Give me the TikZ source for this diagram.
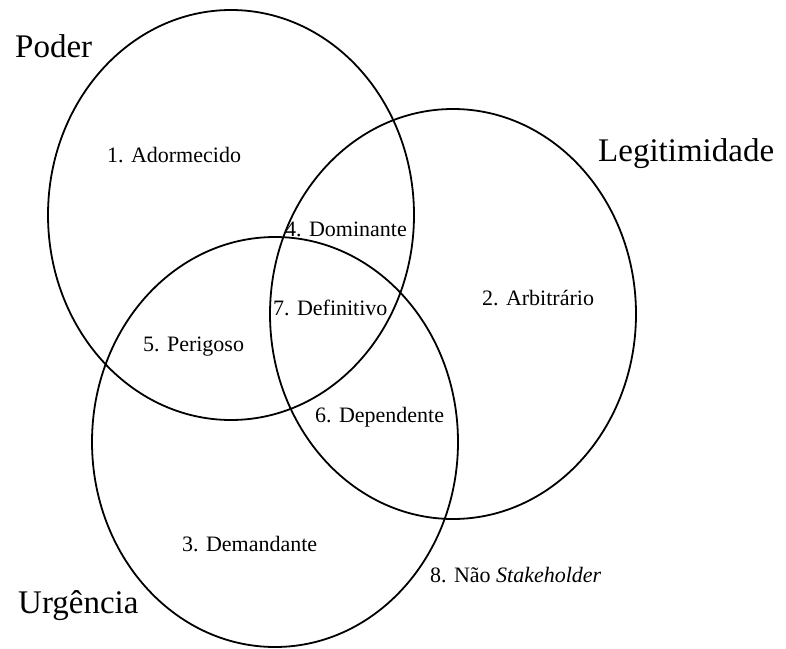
\documentclass[tikz,border=0pt]{standalone}
\usepackage{fontspec}
\setmainfont{Liberation Serif}
\usetikzlibrary{shapes.geometric}
\begin{document}
\begin{tikzpicture}[x=1pt,y=-1pt,
  setring/.style={ellipse, draw, line width=1.8pt, inner sep=0pt,
    minimum width=366pt, minimum height=410pt},
  setname/.style={anchor=base west, inner sep=0pt, font=\fontsize{33}{38}\selectfont},
  region/.style={anchor=base west, inner sep=0pt, font=\fontsize{22}{26}\selectfont}]
  \useasboundingbox (0,0) rectangle (786,648);

  % the three attribute sets
  \node[setring] (poder) at (231,215) {};
  \node[setring] (legit) at (453,314) {};
  \node[setring] (urg)   at (275,442) {};

  % set names
  \node[setname] (tpoder) at (15,57)  {Poder};
  \node[setname] (tlegit) at (598,161) {Legitimidade};
  \node[setname] (turg)   at (18,613) {Urgência};

  % stakeholder classes
  \node[region] (r1) at (107,162) {1. Adormecido};
  \node[region] (r4) at (285,236) {4. Dominante};
  \node[region] (r2) at (482,305) {2. Arbitrário};
  \node[region] (r7) at (273,315) {7. Definitivo};
  \node[region] (r5) at (143,351) {5. Perigoso};
  \node[region] (r6) at (315,422) {6. Dependente};
  \node[region] (r3) at (182,551) {3. Demandante};
  \node[region] (r8) at (430,582) {8. Não \textit{Stakeholder}};
\end{tikzpicture}
\end{document}
